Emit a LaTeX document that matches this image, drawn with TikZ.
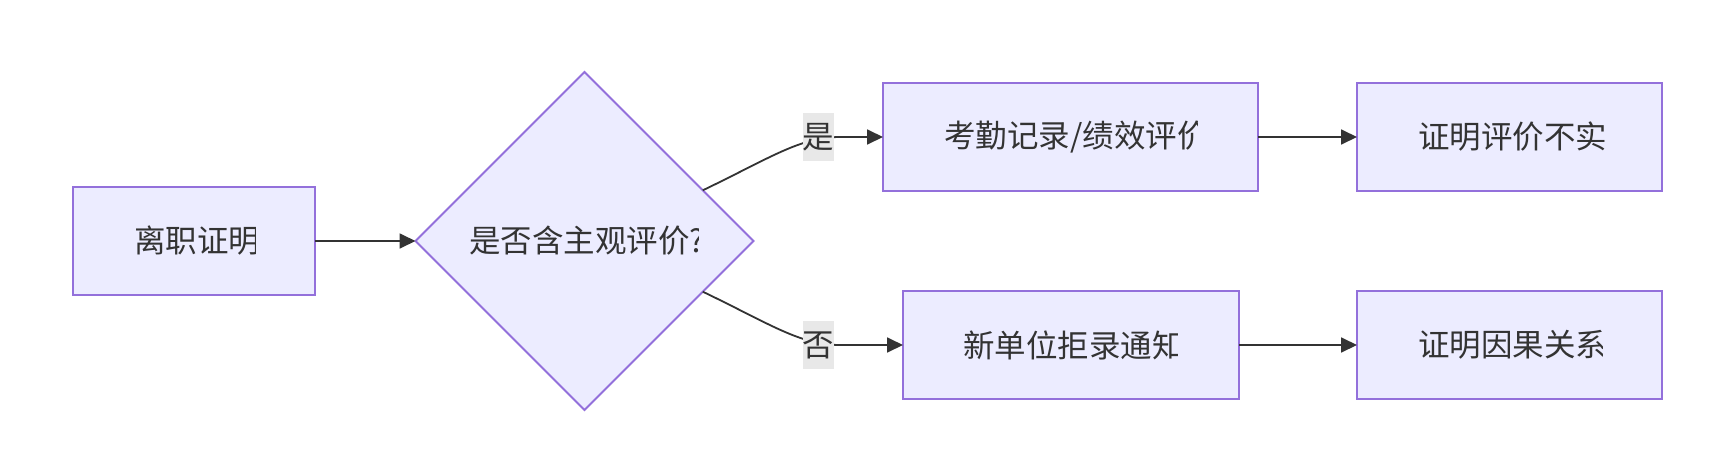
\documentclass[tikz,border=0pt]{standalone}
\usepackage{fontspec}
\newfontfamily\cjk{Noto Sans CJK SC}
\usetikzlibrary{arrows.meta,shapes.geometric,calc}
\definecolor{boxfill}{HTML}{ECECFF}
\definecolor{boxline}{HTML}{9370DB}
\definecolor{edgecol}{HTML}{333333}
\definecolor{lblbg}{HTML}{E8E8E8}
\newcommand\cliptext[5]{%
  \begin{scope}
    \clip (#2,#4-30) rectangle (#3,#4+30);
    \node[txt,anchor=west] (#1) at (#2,#4) {#5};
  \end{scope}}
\begin{document}
\begin{tikzpicture}[x=1pt,y=-1pt,
  box/.style={draw=boxline,fill=boxfill,line width=1.8pt,inner sep=0pt,outer sep=0pt,minimum height=108pt},
  decision/.style={diamond,aspect=1,draw=boxline,fill=boxfill,line width=1.8pt,inner sep=0pt,outer sep=0pt,minimum width=338pt,minimum height=338pt},
  txt/.style={inner sep=0pt,text=edgecol,font=\cjk\fontsize{31.5}{38}\selectfont},
  lbl/.style={fill=lblbg,inner sep=0pt,minimum width=31pt,minimum height=48pt,text=edgecol,font=\cjk\fontsize{31.5}{38}\selectfont},
  conn/.style={draw=edgecol,line width=1.8pt,-{Triangle[length=16pt,width=15pt]}}]
\useasboundingbox (0,0) rectangle (1718,466);
\fill[white] (0,0) rectangle (1718,466);
% nodes
\node[box,minimum width=242pt] (b1) at (194,241) {};
\node[decision] (d) at (584.5,241) {};
\node[box,minimum width=375pt] (b2) at (1070.5,137) {};
\node[box,minimum width=336pt] (b3) at (1071,345) {};
\node[box,minimum width=305pt] (b4) at (1509.5,137) {};
\node[box,minimum width=305pt] (b5) at (1509.5,345) {};
% texts (clipped like the reference)
\cliptext{t1}{134}{255}{241}{离职证明}
\cliptext{td}{469}{698}{241}{是否含主观评价?}
\cliptext{t2}{944}{1197}{137}{考勤记录/绩效评价}
\cliptext{t3}{963}{1177}{345}{新单位拒录通知}
\cliptext{t4}{1418}{1604}{137}{证明评价不实}
\cliptext{t5}{1418}{1602}{345}{证明因果关系}
% connectors
\draw[conn] (b1.east) -- (d.west);
\coordinate (dyes) at ($(d.east)!0.3!(d.north)$);
\coordinate (dno) at ($(d.east)!0.3!(d.south)$);
\draw[conn] (dyes) .. controls (770,158) and (800,137) .. (840,137) -- (b2.west);
\draw[conn] (dno) .. controls (770,324) and (800,345) .. (840,345) -- (b3.west);
\draw[conn] (b2.east) -- (b4.west);
\draw[conn] (b3.east) -- (b5.west);
% edge labels
\node[lbl] (ly) at (818.5,137) {是};
\node[lbl] (ln) at (818.5,345) {否};
\end{tikzpicture}
\end{document}
